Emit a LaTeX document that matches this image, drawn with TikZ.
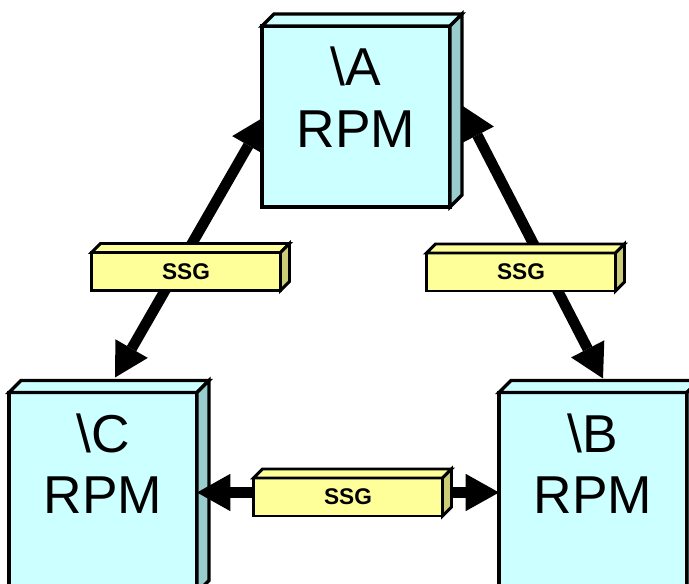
\documentclass[tikz,border=0pt]{standalone}
\usepackage{fontspec}
\setmainfont{Liberation Sans}
\usetikzlibrary{calc}
\usetikzlibrary{arrows.meta}
\usetikzlibrary{backgrounds}
\usepackage{xcolor}

\definecolor{rpmface}{HTML}{CCFFFF}
\definecolor{rpmside}{HTML}{99CCCC}
\definecolor{ssgface}{HTML}{FFFF99}
\definecolor{ssgside}{HTML}{CCCC77}

\tikzset{
 rpm/.style={draw=black, line width=2.4pt, fill=rpmface, minimum width=141pt, inner sep=0pt, outer sep=0pt},
 rpmtext/.style={font=\fontsize{40}{46}\selectfont, align=center, inner sep=0pt, anchor=north, yshift=-15.75pt},
 ssg/.style={draw=black, line width=2.2pt, fill=ssgface, minimum width=141.75pt, minimum height=28.5pt, inner sep=0pt, outer sep=0pt, font=\fontsize{17}{20}\selectfont\bfseries},
 link/.style={line width=8pt, <->, >={Triangle[length=25pt,width=28pt,line width=0pt]}},
}

\begin{document}
\begin{tikzpicture}[x=0.75pt,y=-0.75pt]
\clip (0,0) rectangle (689,584);

\node[rpm, minimum height=135.75pt, label={[rpmtext]north:{\textbackslash A\\RPM}}] (A) at (356,116.5) {};
\node[rpm, minimum height=150pt, label={[rpmtext]north:{\textbackslash B\\RPM}}] (B) at (593,492.5) {};
\node[rpm, minimum height=150pt, label={[rpmtext]north:{\textbackslash C\\RPM}}] (C) at (103,492.5) {};
\foreach \n in {A,B,C} {
 \filldraw[fill=rpmface, line width=2.4pt] (\n.north west)--++(12,-12)--($(\n.north east)+(12,-12)$)--(\n.north east)--cycle;
 \filldraw[fill=rpmside, line width=2.4pt] (\n.north east)--++(12,-12)--($(\n.south east)+(12,-12)$)--(\n.south east)--cycle;
 }

\begin{scope}[on background layer]
\draw[link] ([shift={(3,0)}]A.west)--([shift={(12,-15)}]C.north);
\draw[link] ([shift={(12,-11)}]A.east)--([shift={(10,-14)}]B.north);
\end{scope}
\draw[link] (C.east)--(B.west);

\node[ssg] (s1) at (186,271.5) {SSG};
\node[ssg] (s2) at (521,272) {SSG};
\node[ssg] (s3) at (348,497) {SSG};
\foreach \n in {s1,s2,s3} {
 \filldraw[fill=ssgface, line width=2.2pt] (\n.north west)--++(9,-9)--($(\n.north east)+(9,-9)$)--(\n.north east)--cycle;
 \filldraw[fill=ssgside, line width=2.2pt] (\n.north east)--++(9,-9)--($(\n.south east)+(9,-9)$)--(\n.south east)--cycle;
 }
\end{tikzpicture}
\end{document}
